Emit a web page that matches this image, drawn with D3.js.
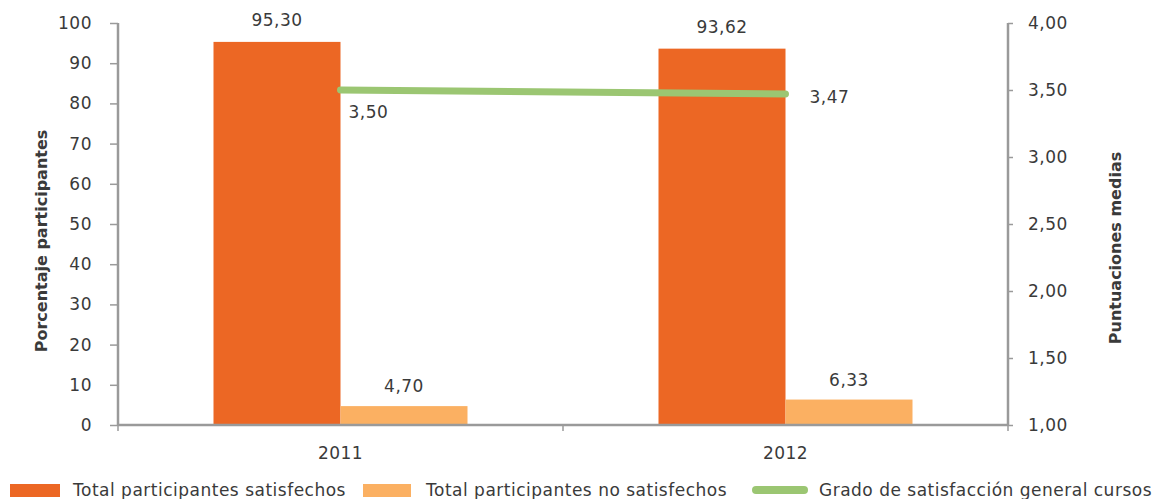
<!DOCTYPE html>
<html><head><meta charset="utf-8">
<script src="https://cdn.jsdelivr.net/npm/d3@7"></script>
<style>
html,body{margin:0;padding:0;background:#fff;}
svg text{font-family:"DejaVu Sans",sans-serif;fill:#3a3a3a;}
</style></head>
<body><svg id="c" width="1152" height="499"></svg>
<script>
const categories = ["2011", "2012"];
const satisfechos = [95.30, 93.62];
const noSatisfechos = [4.70, 6.33];
const gradoSatisfaccion = [3.50, 3.47];
const leftTicks = [0,10,20,30,40,50,60,70,80,90,100];
const rightTicks = [1.00,1.50,2.00,2.50,3.00,3.50,4.00];
const seriesNames = ["Total participantes satisfechos","Total participantes no satisfechos","Grado de satisfacción general cursos"];
const colors = ["#ec6724","#fbb062","#9bc672"];

const svg = d3.select("#c");
const L = 118, R = 1008, T = 23, B = 425;
const fmt = v => d3.format(".2f")(v).replace(".", ",");
const FS = 17, LS = "0.5px";

const x = d3.scaleBand().domain(categories).range([L, R]);
const yL = d3.scaleLinear().domain([0,100]).range([B, T]);
const yR = d3.scaleLinear().domain([1,4]).range([B, T]);
const barW = 127;

// bars
categories.forEach((c,i)=>{
  const cx = x(c) + x.bandwidth()/2;
  svg.append("rect").attr("x", cx - barW).attr("y", yL(satisfechos[i]))
    .attr("width", barW).attr("height", B - yL(satisfechos[i])).attr("fill", colors[0]);
  svg.append("rect").attr("x", cx).attr("y", yL(noSatisfechos[i]))
    .attr("width", barW).attr("height", B - yL(noSatisfechos[i])).attr("fill", colors[1]);
  svg.append("text").attr("x", cx - barW/2).attr("y", yL(satisfechos[i]) - 16)
    .attr("text-anchor","middle").attr("font-size",FS).attr("letter-spacing",LS).text(fmt(satisfechos[i]));
  svg.append("text").attr("x", cx + barW/2).attr("y", yL(noSatisfechos[i]) - 14)
    .attr("text-anchor","middle").attr("font-size",FS).attr("letter-spacing",LS).text(fmt(noSatisfechos[i]));
});

// axes
const axisColor = "#9a9a9a";
const gL = svg.append("g").attr("transform",`translate(${L},0)`)
  .call(d3.axisLeft(yL).tickValues(leftTicks).tickSize(8).tickPadding(18).tickFormat(d3.format("d")));
const gR = svg.append("g").attr("transform",`translate(${R},0)`)
  .call(d3.axisRight(yR).tickValues(rightTicks).tickSize(5).tickPadding(15).tickFormat(fmt));
const gX = svg.append("g").attr("transform",`translate(0,${B})`)
  .call(d3.axisBottom(x).tickSize(0).tickPadding(22));
gX.append("g").selectAll("line").data([L, (L+R)/2, R]).join("line")
  .attr("x1",d=>d).attr("x2",d=>d).attr("y1",0).attr("y2",6).attr("stroke",axisColor).attr("stroke-width",1.5);
[gL,gR,gX].forEach(g=>{
  g.select(".domain").attr("stroke",axisColor).attr("stroke-width",2.5);
  g.selectAll(".tick line").attr("stroke",axisColor).attr("stroke-width",1.5);
  g.selectAll(".tick text").attr("font-size",FS).attr("letter-spacing",LS).attr("font-family","DejaVu Sans").attr("fill","#3a3a3a");
});
gL.select(".domain").attr("d", `M0,${T}V${B}`);
gR.select(".domain").attr("d", `M0,${T}V${B}`);
gX.select(".domain").attr("d", `M${L},0H${R}`);

// axis titles
svg.append("text").attr("transform",`translate(47,241) rotate(-90)`)
  .attr("text-anchor","middle").attr("font-size",16).attr("font-weight","bold").text("Porcentaje participantes");
svg.append("text").attr("transform",`translate(1121,248) rotate(-90)`)
  .attr("text-anchor","middle").attr("font-size",16).attr("font-weight","bold").text("Puntuaciones medias");

// line
const lx = c => x(c) + x.bandwidth()/2;
svg.append("path").datum(categories)
  .attr("d", d3.line().x(c=>lx(c)).y((c,i)=>yR(gradoSatisfaccion[i])))
  .attr("fill","none").attr("stroke",colors[2]).attr("stroke-width",7).attr("stroke-linecap","round");
const lblOff = [[8,28],[24,9]];
categories.forEach((c,i)=>{
  svg.append("text").attr("x", lx(c)+lblOff[i][0]).attr("y", yR(gradoSatisfaccion[i])+lblOff[i][1])
    .attr("font-size",FS).attr("letter-spacing",LS).text(fmt(gradoSatisfaccion[i]));
});

// legend
const leg = [{x:10,w:50,type:"rect"},{x:363,w:48,type:"rect"},{x:752,w:56,type:"line"}];
const legTx = [73, 426, 819];
seriesNames.forEach((n,i)=>{
  if (leg[i].type==="rect")
    svg.append("rect").attr("x",leg[i].x).attr("y",484).attr("width",leg[i].w).attr("height",13).attr("fill",colors[i]);
  else
    svg.append("line").attr("x1",leg[i].x+4).attr("x2",leg[i].x+leg[i].w-4).attr("y1",490).attr("y2",490)
      .attr("stroke",colors[i]).attr("stroke-width",8).attr("stroke-linecap","round");
  svg.append("text").attr("x",legTx[i]).attr("y",496).attr("font-size",FS).attr("letter-spacing",LS).text(n);
});
</script></body></html>
